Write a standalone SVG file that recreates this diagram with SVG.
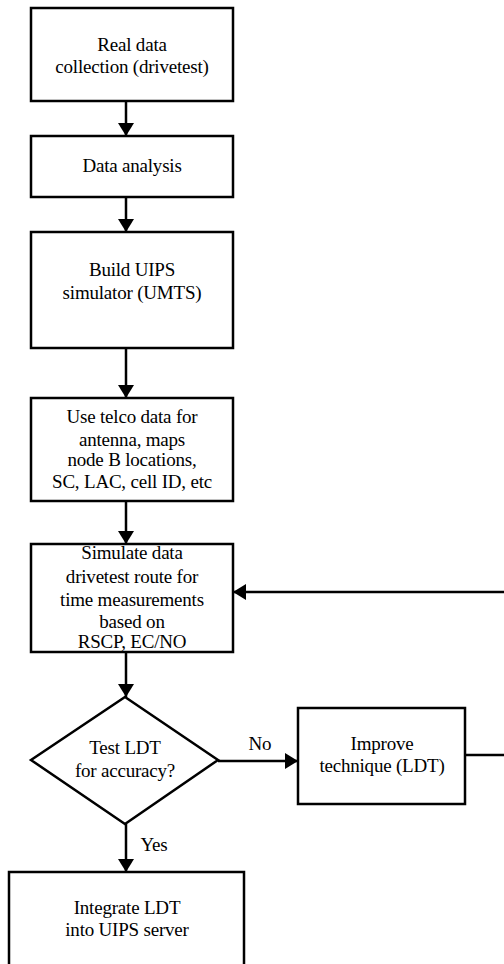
<svg xmlns="http://www.w3.org/2000/svg" width="504" height="964" viewBox="0 0 504 964">
<style>
.box{fill:#fff;stroke:#000;stroke-width:2.5}
.t{font-family:"Liberation Serif","Times New Roman","DejaVu Serif",serif;font-size:19px;fill:#000;text-anchor:middle;letter-spacing:-0.2px}
.c{stroke:#000;stroke-width:2.5;fill:none}
</style>
<defs>
<marker id="ah" markerUnits="userSpaceOnUse" markerWidth="14" markerHeight="16" refX="13" refY="8" orient="auto">
<path d="M0,0 L13,8 L0,16 z" fill="#000"/>
</marker>
</defs>
<rect width="504" height="964" fill="#fff"/>
<g id="connectors">
<line class="c" x1="126" y1="101" x2="126" y2="136" marker-end="url(#ah)"/>
<line class="c" x1="126" y1="197" x2="126" y2="232" marker-end="url(#ah)"/>
<line class="c" x1="126" y1="348" x2="126" y2="398" marker-end="url(#ah)"/>
<line class="c" x1="126" y1="501" x2="126" y2="544" marker-end="url(#ah)"/>
<line class="c" x1="126" y1="652" x2="126" y2="697" marker-end="url(#ah)"/>
<line class="c" x1="126" y1="824" x2="126" y2="872" marker-end="url(#ah)"/>
<line class="c" x1="218" y1="761" x2="298" y2="761" marker-end="url(#ah)"/>
<line class="c" x1="465" y1="755" x2="510" y2="755"/>
<line class="c" x1="510" y1="592" x2="233" y2="592" marker-end="url(#ah)"/>
<text class="t" x="260" y="750">No</text>
<text class="t" x="154" y="851">Yes</text>
</g>
<g id="n1">
<rect class="box" x="31" y="8" width="202" height="93"/>
<text class="t" x="132" y="51">Real data</text>
<text class="t" x="132" y="73">collection (drivetest)</text>
</g>
<g id="n2">
<rect class="box" x="31" y="136" width="202" height="61"/>
<text class="t" x="132" y="172">Data analysis</text>
</g>
<g id="n3">
<rect class="box" x="31" y="232" width="202" height="116"/>
<text class="t" x="132" y="276">Build UIPS</text>
<text class="t" x="132" y="299">simulator (UMTS)</text>
</g>
<g id="n4">
<rect class="box" x="31" y="398" width="202" height="103"/>
<text class="t" x="132" y="423">Use telco data for</text>
<text class="t" x="132" y="446">antenna, maps</text>
<text class="t" x="132" y="466">node B locations,</text>
<text class="t" x="132" y="488">SC, LAC, cell ID, etc</text>
</g>
<g id="n5">
<rect class="box" x="31" y="544" width="202" height="108"/>
<text class="t" x="132" y="559">Simulate data</text>
<text class="t" x="132" y="583">drivetest route for</text>
<text class="t" x="132" y="606">time measurements</text>
<text class="t" x="132" y="628">based on</text>
<text class="t" x="132" y="648">RSCP, EC/NO</text>
</g>
<g id="n6">
<polygon class="box" points="125,697 218,760 125,824 31,760"/>
<text class="t" x="125" y="754">Test LDT</text>
<text class="t" x="125" y="777">for accuracy?</text>
</g>
<g id="n7">
<rect class="box" x="298" y="708" width="167" height="96"/>
<text class="t" x="382" y="750">Improve</text>
<text class="t" x="382" y="772">technique (LDT)</text>
</g>
<g id="n8">
<rect class="box" x="9" y="872" width="235" height="100"/>
<text class="t" x="127" y="914">Integrate LDT</text>
<text class="t" x="127" y="936">into UIPS server</text>
</g>
</svg>
